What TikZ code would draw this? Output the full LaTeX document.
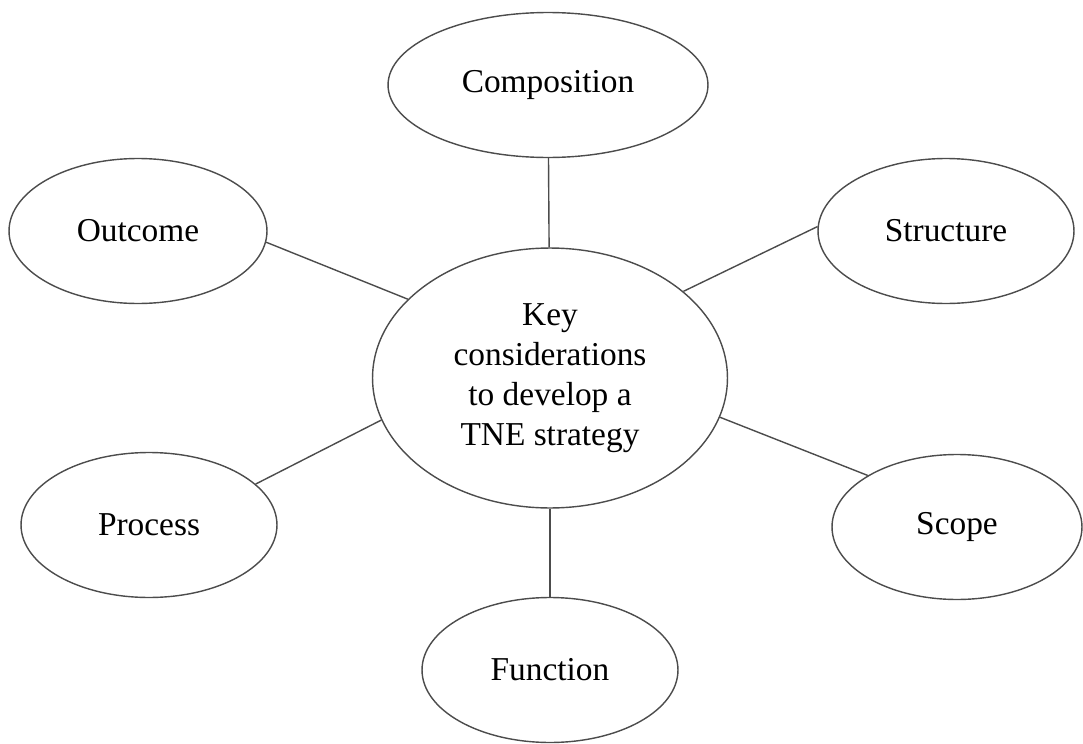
\documentclass[tikz,border=0pt]{standalone}
\usepackage{fontspec}
\setmainfont{Liberation Serif}
\usepackage{tikz}
\usetikzlibrary{shapes.geometric}

\begin{document}
\begin{tikzpicture}[x=0.02cm, y=-0.02cm,
    bubble/.style={ellipse, draw=black!70, line width=0.8pt, inner sep=0pt,
        minimum width=5.12cm, minimum height=2.9cm, align=center,
        font=\fontsize{19}{22.8}\selectfont},
    link/.style={draw=black!70, line width=0.8pt}]
    % 1. Khung hinh
    \useasboundingbox (0,0) rectangle (1083,744);

    % 2. Cac hinh elip
    \node[bubble, minimum width=7.1cm, minimum height=5.2cm] (key) at (550,378)
        {Key\\considerations\\to develop a\\TNE strategy};
    \node[bubble, minimum width=6.4cm] (comp) at (548,85) {Composition};
    \node[bubble, minimum width=5.16cm] (outc) at (138,231) {Outcome};
    \node[bubble] (struc) at (946,231) {Structure};
    \node[bubble] (proc) at (149,525) {Process};
    \node[bubble, minimum width=5cm] (scope) at (957,527) {Scope};
    \node[bubble] (func) at (550,670) {Function};

    % 3. Cac duong noi
    \foreach \a/\b in {comp/key, key/func, outc.-5/key.151, struc.178/key.33,
        proc.21/key.-166, key.-13/scope.150} {
        \draw[link] (\a) -- (\b);
    }
\end{tikzpicture}
\end{document}
